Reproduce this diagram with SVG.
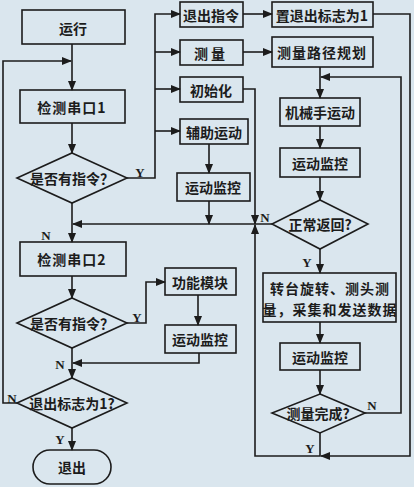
<svg xmlns="http://www.w3.org/2000/svg" width="414" height="487" viewBox="0 0 414 487">
<defs>
<marker id="ah" markerWidth="10" markerHeight="8" refX="9" refY="4" orient="auto" markerUnits="userSpaceOnUse">
<path d="M0,0 L10,4 L0,8 Z" fill="#1c1c1c"/>
</marker>
<style>
.n rect,.n path,.n polygon{fill:none;stroke:#1c1c1c;stroke-width:1.6}
.t{font-family:"Noto Sans CJK SC","Noto Sans CJK JP",sans-serif;font-weight:700;font-size:14px;fill:#1c1c1c;text-anchor:middle;dominant-baseline:central}
.l{font-family:"Liberation Serif",serif;font-weight:700;font-size:13px;fill:#1c1c1c;text-anchor:middle;dominant-baseline:central}
#edges path{fill:none;stroke:#1c1c1c;stroke-width:1.6}
</style>
</defs>
<rect width="414" height="487" fill="#dae6ee"/>

<g id="edges">
<path d="M72,44 V90" marker-end="url(#ah)"/>
<path d="M17,403 H3 V61 H71" marker-end="url(#ah)"/>
<path d="M72,123 V153" marker-end="url(#ah)"/>
<path d="M127,178 H155 V14 H180" marker-end="url(#ah)"/>
<path d="M155,52 H180" marker-end="url(#ah)"/>
<path d="M155,89 H180" marker-end="url(#ah)"/>
<path d="M155,131 H180" marker-end="url(#ah)"/>
<path d="M72,203 V242" marker-end="url(#ah)"/>
<path d="M272,224 H73" marker-end="url(#ah)"/>
<path d="M243,89 H255 V224" marker-end="url(#ah)"/>
<path d="M373,14 H410 V456 H321" marker-end="url(#ah)"/>
<path d="M320,433 V456 H255 V225" marker-end="url(#ah)"/>
<path d="M209,144 V173" marker-end="url(#ah)"/>
<path d="M209,201 V224" marker-end="url(#ah)"/>
<path d="M243,14 H272" marker-end="url(#ah)"/>
<path d="M243,52 H272" marker-end="url(#ah)"/>
<path d="M320,67 V98" marker-end="url(#ah)"/>
<path d="M365,413 H401 V77 H321" marker-end="url(#ah)"/>
<path d="M320,126 V148" marker-end="url(#ah)"/>
<path d="M320,177 V200" marker-end="url(#ah)"/>
<path d="M320,249 V273" marker-end="url(#ah)"/>
<path d="M320,322 V343" marker-end="url(#ah)"/>
<path d="M320,370 V394" marker-end="url(#ah)"/>
<path d="M72,276 V298" marker-end="url(#ah)"/>
<path d="M127,323 H146 V282 H165" marker-end="url(#ah)"/>
<path d="M198,295 V325" marker-end="url(#ah)"/>
<path d="M199,353 V363 H73" marker-end="url(#ah)"/>
<path d="M72,348 V378" marker-end="url(#ah)"/>
<path d="M72,428 V450" marker-end="url(#ah)"/>
</g>

<g id="labels">
<text class="l" x="140" y="172">Y</text>
<text class="l" x="46" y="235">N</text>
<text class="l" x="137" y="317">Y</text>
<text class="l" x="60" y="364">N</text>
<text class="l" x="12" y="398">N</text>
<text class="l" x="60" y="439">Y</text>
<text class="l" x="265" y="217">N</text>
<text class="l" x="307" y="262">Y</text>
<text class="l" x="372" y="405">N</text>
<text class="l" x="310" y="448">Y</text>
</g>

<g id="run" class="n"><rect x="22" y="10" width="103" height="34"/><text class="t" x="73" y="28">运行</text></g>
<g id="detect1" class="n"><rect x="20" y="90" width="105" height="33"/><text class="t" x="72" y="107" letter-spacing="1">检测串口1</text></g>
<g id="dec1" class="n"><polygon points="72,153 127,178 72,203 17,178"/><text class="t" x="72" y="178">是否有指令？</text></g>
<g id="detect2" class="n"><rect x="20" y="242" width="106" height="34"/><text class="t" x="72" y="259" letter-spacing="1">检测串口2</text></g>
<g id="dec2" class="n"><polygon points="72,298 127,323 72,348 17,323"/><text class="t" x="72" y="323">是否有指令？</text></g>
<g id="dec3" class="n"><polygon points="72,378 127,403 72,428 17,403"/><text class="t" x="72" y="403">退出标志为1?</text></g>
<g id="exit" class="n"><rect x="33" y="450" width="78" height="34" rx="17"/><text class="t" x="72" y="467">退出</text></g>

<g id="exitcmd" class="n"><rect x="180" y="2" width="63" height="25"/><text class="t" x="211" y="15">退出指令</text></g>
<g id="setflag" class="n"><rect x="272" y="2" width="101" height="25"/><text class="t" x="322" y="15">置退出标志为1</text></g>
<g id="measure" class="n"><rect x="180" y="40" width="63" height="25"/><text class="t" x="211" y="53" letter-spacing="3">测量</text></g>
<g id="plan" class="n"><rect x="272" y="37" width="101" height="30"/><text class="t" x="322" y="52" letter-spacing="1">测量路径规划</text></g>
<g id="init" class="n"><rect x="180" y="77" width="63" height="25"/><text class="t" x="211" y="90">初始化</text></g>
<g id="aux" class="n"><rect x="180" y="119" width="68" height="25"/><text class="t" x="214" y="132">辅助运动</text></g>
<g id="mon1" class="n"><rect x="177" y="173" width="73" height="28"/><text class="t" x="213" y="187">运动监控</text></g>
<g id="func" class="n"><rect x="165" y="268" width="71" height="27"/><text class="t" x="200" y="282">功能模块</text></g>
<g id="mon2" class="n"><rect x="165" y="325" width="71" height="28"/><text class="t" x="200" y="339">运动监控</text></g>

<g id="robot" class="n"><rect x="280" y="98" width="80" height="28"/><text class="t" x="320" y="112">机械手运动</text></g>
<g id="mon3" class="n"><rect x="280" y="148" width="80" height="29"/><text class="t" x="320" y="163">运动监控</text></g>
<g id="ret" class="n"><polygon points="320,200 368,224 320,249 272,224"/><text class="t" x="320" y="224">正常返回?</text></g>
<g id="rotate" class="n"><rect x="263" y="273" width="133" height="49"/><text class="t" x="330" y="288" letter-spacing="1">转台旋转、测头测</text><text class="t" x="330" y="309" letter-spacing="1">量，采集和发送数据</text></g>
<g id="mon4" class="n"><rect x="280" y="343" width="80" height="27"/><text class="t" x="320" y="357">运动监控</text></g>
<g id="done" class="n"><polygon points="320,394 365,413 320,433 272,413"/><text class="t" x="318" y="413">测量完成?</text></g>
</svg>
